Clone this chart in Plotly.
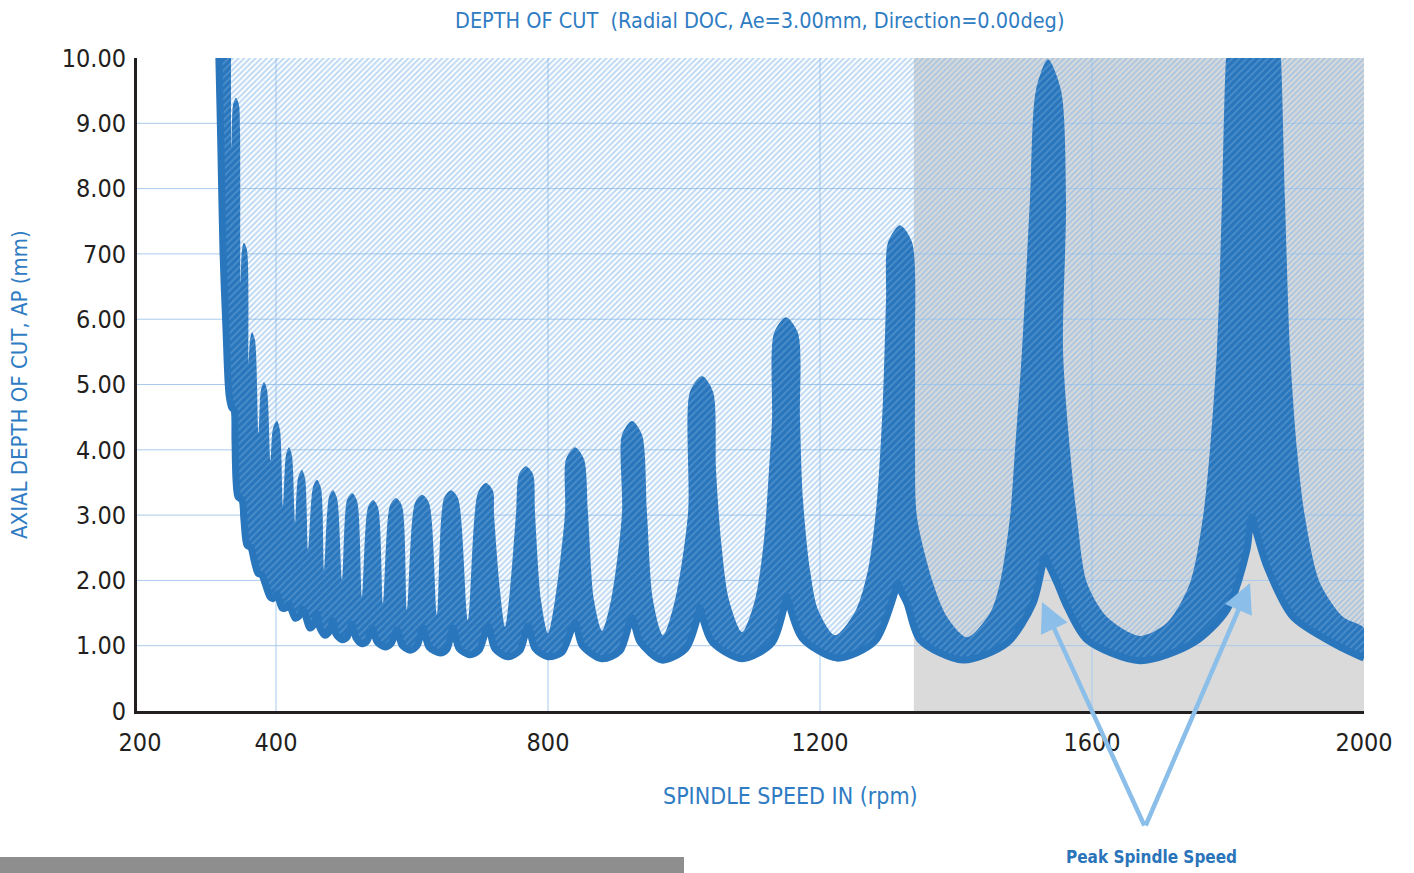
import plotly.graph_objects as go

# ---------------- data ----------------
# lower (stable-side) edge of the lobe band: spindle speed (rpm) / axial depth (mm)
OUTER_RPM = [315, 316, 319, 322, 326.5, 331, 335.3, 338.3, 339.7, 341.2, 344.1, 350.0, 352.9, 357.4,
             363.2, 367.7, 373.5, 379.4, 383.8, 391.2, 395.6, 401.5, 408.8, 414.7, 419.1, 428.0,
             433.8, 439.7, 450.0, 455.9, 460.3, 464.7, 472.1, 478.0, 483.8, 488.2, 497.1, 504.4,
             511.8, 517.7, 526.5, 533.8, 541.2, 548.6, 560.3, 569.1, 578.0, 585.3, 597.1, 607.4,
             616.2, 625.0, 641.2, 651.5, 660.3, 669.1, 685.3, 698.5, 711.8, 722.1, 741.2, 758.8,
             770.6, 780.9, 800.0, 820.6, 839.7, 850.0, 879.4, 905.9, 923.5, 935.3, 967.6, 1002.9,
             1021.4, 1023.5, 1025.7, 1041.2, 1085.3, 1129.4, 1148.5, 1151.5, 1154.4, 1173.5, 1225.0,
             1280.9, 1311.0, 1314.7, 1318.4, 1328.0, 1347.1, 1410.3, 1475.0, 1513.3, 1528.0, 1530.9,
             1535.5, 1549.0, 1563.2, 1592.6, 1670.6, 1748.5, 1798.5, 1827.9, 1832.4, 1835.3, 1838.3,
             1857.4, 1895.6, 1954.4, 2000.0]
OUTER_DEPTH = [10.43, 10.00, 8.59, 7.06, 5.83, 4.84, 4.64, 4.61, 4.15, 3.54, 3.28, 3.23, 2.92, 2.54,
               2.50, 2.31, 2.11, 2.08, 1.96, 1.75, 1.72, 1.79, 1.58, 1.58, 1.64, 1.42,
               1.45, 1.56, 1.27, 1.33, 1.49, 1.27, 1.16, 1.21, 1.38, 1.18, 1.09, 1.13,
               1.33, 1.12, 1.03, 1.07, 1.27, 1.06, 0.98, 1.03, 1.24, 1.01, 0.93, 1.00,
               1.27, 0.98, 0.89, 0.95, 1.27, 0.96, 0.86, 0.93, 1.30, 0.95, 0.83, 0.93,
               1.30, 0.96, 0.83, 0.90, 1.35, 1.01, 0.80, 0.92, 1.42, 1.06, 0.78, 0.96,
               1.49, 1.58, 1.49, 1.06, 0.80, 1.04, 1.64, 1.75, 1.64, 1.12, 0.81,
               1.07, 1.85, 1.96, 1.85, 1.65, 1.09, 0.78, 1.04, 1.65, 2.27, 2.36,
               2.26, 1.95, 1.60, 1.09, 0.77, 1.04, 1.55, 2.47, 2.86, 2.97, 2.86,
               2.21, 1.44, 1.04, 0.81]

# upper (unstable-side) edge of the lobe band
INNER_RPM = [333.8, 333.8, 334.6, 336.8, 341.2, 345.6, 347.1, 347.8, 350.0, 352.9, 357.4, 359.6,
             361.8, 364.7, 369.1, 374.3, 377.9, 382.4, 386.8, 391.9, 395.6, 401.5, 405.9, 410.3,
             414.7, 419.1, 423.5, 428.0, 432.4, 438.2, 442.7, 447.1, 454.4, 460.3, 466.2, 470.6,
             478.0, 483.8, 489.7, 497.1, 504.4, 511.8, 519.2, 526.5, 535.3, 542.7, 550.0, 557.4,
             567.7, 576.5, 585.3, 592.7, 604.4, 614.7, 625.0, 636.8, 647.1, 657.4, 667.6, 682.3,
             697.1, 708.8, 719.2, 720.6, 729.4, 736.8, 744.1, 753.0, 757.4, 767.6, 777.9, 780.9,
             789.7, 800.0, 810.3, 825.0, 826.5, 839.7, 852.9, 858.8, 867.6, 879.4, 892.7, 908.8,
             908.8, 923.5, 938.2, 945.6, 954.4, 969.1, 986.8, 1005.9, 1008.8, 1026.5, 1042.7, 1047.1,
             1054.4, 1066.2, 1085.3, 1104.4, 1117.6, 1125.0, 1129.4, 1132.4, 1150.0, 1167.6, 1170.6,
             1175.0, 1185.3, 1197.1, 1222.1, 1251.5, 1270.6, 1283.8, 1292.6, 1297.1, 1300.0, 1317.6,
             1335.3, 1339.7, 1339.7, 1342.6, 1366.2, 1386.8, 1416.2, 1450.0, 1464.7, 1479.4, 1486.8,
             1497.1, 1508.8, 1517.6, 1535.3, 1554.4, 1561.8, 1557.4, 1567.6, 1577.9, 1592.6, 1622.1,
             1670.6, 1710.3, 1744.1, 1763.2, 1773.5, 1783.8, 1791.2, 1797.1, 1802.9, 1836.7, 1873.5,
             1877.9, 1883.8, 1891.2, 1901.5, 1913.2, 1935.3, 1969.1, 2000.0]
INNER_DEPTH = [10.43, 10.00, 8.64, 9.28, 9.39, 9.28, 8.90, 6.55, 7.06, 7.17, 7.06, 5.33,
               5.68, 5.80, 5.68, 4.26, 4.92, 5.04, 4.92, 3.84, 4.33, 4.44, 4.30, 3.15,
               3.92, 4.04, 3.91, 2.89, 3.57, 3.69, 3.57, 2.47, 3.43, 3.54, 3.41, 2.16,
               3.28, 3.38, 3.26, 2.01, 3.23, 3.34, 3.22, 1.75, 3.12, 3.23, 3.12, 1.65,
               3.15, 3.26, 3.14, 1.55, 3.19, 3.31, 3.19, 1.47, 3.26, 3.38, 3.26, 1.39,
               3.35, 3.49, 3.37, 3.03, 1.85, 1.29, 1.85, 3.03, 3.63, 3.75, 3.63, 3.03,
               1.70, 1.19, 1.70, 3.03, 3.86, 4.04, 3.86, 3.03, 1.70, 1.23, 1.70, 3.03,
               4.23, 4.44, 4.23, 3.03, 1.70, 1.16, 1.70, 3.03, 4.89, 5.13, 4.89, 3.69,
               2.62, 1.70, 1.21, 1.70, 2.62, 3.69, 4.46, 5.79, 6.03, 5.79, 4.46,
               3.23, 2.16, 1.55, 1.16, 1.52, 2.16, 3.23, 4.76, 6.29, 7.18, 7.44,
               7.18, 5.53, 4.00, 2.97, 1.96, 1.44, 1.13, 1.50, 1.96, 2.97, 4.00,
               5.53, 7.83, 9.51, 9.98, 9.51, 7.83, 5.53, 4.00, 2.97, 1.96, 1.44,
               1.15, 1.35, 1.96, 2.97, 4.00, 5.53, 7.83, 10.00, 10.58, 10.89, 10.58,
               10.00, 7.83, 5.53, 4.00, 2.97, 1.96, 1.44, 1.27]

# grey speed zone (rpm)
GRAY_ZONE = [1338, 2000]

# arrow targets (peak spindle speeds)
PEAK_RPM = [1526.5, 1832.4]
PEAK_DEPTH = [1.67, 1.96]

X_TICKS = [200, 400, 800, 1200, 1600, 2000]
X_TICK_TEXT = ["200", "400", "800", "1200", "1600", "2000"]
X_GRID = [400, 800, 1200, 1600]
Y_TICKS = [0, 1, 2, 3, 4, 5, 6, 7, 8, 9, 10]
Y_TICK_TEXT = ["0", "1.00", "2.00", "3.00", "4.00", "5.00", "6.00", "700", "8.00", "9.00", "10.00"]
Y_GRID = [1, 2, 3, 4, 5, 6, 7, 8, 9]

# ---------------- styling ----------------
X_RANGE = [195.6, 2000]
Y_RANGE = [0, 10]
FONT = "DejaVu Sans Condensed, Liberation Sans Narrow, Arial Narrow, sans-serif"
BLUE = "#2a76bc"
TITLE_BLUE = "#2f7cc3"
HATCH = "#7db2e5"
GRID = "#a9cbeb"
INK = "#231f20"

fig = go.Figure()

# hatched unstable region (everything above the lower band edge)
far_x = X_RANGE[1] + 80
far_y = Y_RANGE[1] + 2
fig.add_trace(go.Scatter(
    x=OUTER_RPM + [far_x, far_x, OUTER_RPM[0]],
    y=OUTER_DEPTH + [OUTER_DEPTH[-1], far_y, far_y],
    mode="lines", fill="toself", fillcolor="rgba(0,0,0,0)",
    line=dict(width=0, simplify=False),
    fillpattern=dict(shape="/", fgcolor=HATCH, bgcolor="rgba(0,0,0,0)", size=4, solidity=0.5),
    hoverinfo="skip", showlegend=False))

# lobe band (between lower and upper edges)
fig.add_trace(go.Scatter(
    x=OUTER_RPM + INNER_RPM[::-1],
    y=OUTER_DEPTH + INNER_DEPTH[::-1],
    mode="lines", fill="toself", fillcolor=BLUE,
    line=dict(width=0, shape="spline", smoothing=0.8, simplify=False),
    fillpattern=dict(shape="/", fgcolor="#6fa7db", bgcolor=BLUE, size=5, solidity=0.33),
    hoverinfo="skip", showlegend=False))

# solid stable-boundary stroke
fig.add_trace(go.Scatter(
    x=OUTER_RPM, y=OUTER_DEPTH, mode="lines",
    line=dict(color=BLUE, width=7, shape="spline", smoothing=0.8, simplify=False),
    hoverinfo="skip", showlegend=False))

shapes = [dict(type="rect", xref="x", yref="y", x0=GRAY_ZONE[0], x1=GRAY_ZONE[1],
               y0=Y_RANGE[0], y1=Y_RANGE[1], fillcolor="#dadada", line=dict(width=0), layer="below")]
for gx in X_GRID:
    shapes.append(dict(type="line", xref="x", yref="y", x0=gx, x1=gx, y0=Y_RANGE[0], y1=Y_RANGE[1],
                       line=dict(color=GRID, width=1), layer="between"))
for gy in Y_GRID:
    shapes.append(dict(type="line", xref="x", yref="y", x0=X_RANGE[0], x1=X_RANGE[1], y0=gy, y1=gy,
                       line=dict(color=GRID, width=1), layer="between"))
# grey footer bar
shapes.append(dict(type="rect", xref="paper", yref="paper", x0=-0.1117, x1=0.4458, y0=-0.2481, y1=-0.2236,
                   fillcolor="#8e8e8e", line=dict(width=0), layer="above"))

annotations = [
    dict(text="DEPTH OF CUT\u00a0\u00a0(Radial DOC, Ae=3.00mm, Direction=0.00deg)", xref="paper", yref="paper",
         x=0.507, y=1.0567, xanchor="center", yanchor="middle", showarrow=False,
         font=dict(family=FONT, size=21.5, color=TITLE_BLUE)),
    dict(text="AXIAL DEPTH OF CUT, AP (mm)", xref="paper", yref="paper", x=-0.0954, y=0.5008,
         xanchor="center", yanchor="middle", textangle=-90, showarrow=False,
         font=dict(family=FONT, size=22, color=TITLE_BLUE)),
    dict(text="SPINDLE SPEED IN (rpm)", xref="paper", yref="paper", x=0.533, y=-0.130,
         xanchor="center", yanchor="middle", showarrow=False,
         font=dict(family=FONT, size=23, color=TITLE_BLUE)),
    dict(text="<b>Peak Spindle Speed</b>", xref="paper", yref="paper", x=0.8272, y=-0.2236,
         xanchor="center", yanchor="middle", showarrow=False,
         font=dict(family=FONT, size=17, color="#2a74ba")),
]
for px_, py_, ax_, ay_ in zip(PEAK_RPM, PEAK_DEPTH, [103, -105], [225, 244]):
    annotations.append(dict(x=px_, y=py_, xref="x", yref="y", ax=ax_, ay=ay_, text="",
                            showarrow=True, arrowhead=2, arrowsize=1.3, arrowwidth=4.5,
                            arrowcolor="#8bbfe9", standoff=0, startstandoff=0))

fig.update_layout(
    width=1414, height=873, autosize=False,
    margin=dict(l=137, r=50, t=58, b=162, pad=0),
    paper_bgcolor="white", plot_bgcolor="white",
    showlegend=False,
    shapes=shapes, annotations=annotations,
    xaxis=dict(range=X_RANGE, tickvals=X_TICKS, ticktext=X_TICK_TEXT, showgrid=False, zeroline=False,
               showline=True, linecolor=INK, linewidth=2.5, ticks="", ticklabelstandoff=7,
               tickfont=dict(family=FONT, size=25, color=INK), fixedrange=True),
    yaxis=dict(range=Y_RANGE, tickvals=Y_TICKS, ticktext=Y_TICK_TEXT, showgrid=False, zeroline=False,
               showline=True, linecolor=INK, linewidth=3, ticks="", ticklabelstandoff=3,
               tickfont=dict(family=FONT, size=25, color=INK), fixedrange=True),
)

# remove the default 8px page margin so the figure fills the window exactly
fig.write_html("out.html", config={"displayModeBar": False},
               post_script="document.body.style.margin='0';")
